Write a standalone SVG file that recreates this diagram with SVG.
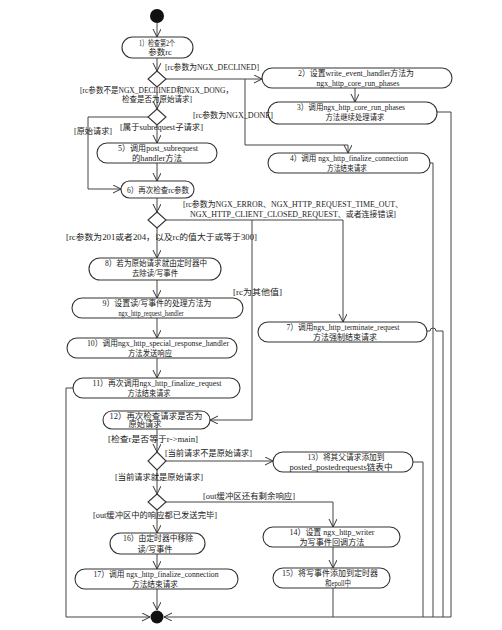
<svg xmlns="http://www.w3.org/2000/svg" width="502" height="630" viewBox="0 0 502 630">
<style>
.n{fill:#fff;stroke:#333;stroke-width:1.1}
.c{fill:none;stroke:#444;stroke-width:1}
.d{fill:#fff;stroke:#333;stroke-width:1.1}
text{font-family:"Liberation Serif","Noto Sans CJK SC",serif;font-size:8.5px;fill:#222;text-anchor:middle}
.l{text-anchor:start}
</style>
<defs>
<marker id="a" markerWidth="10" markerHeight="10" refX="8" refY="4" orient="auto" markerUnits="userSpaceOnUse">
<path d="M0,0 L8,4 L0,8" fill="none" stroke="#333" stroke-width="1"/>
</marker>
</defs>
<rect width="502" height="630" fill="#fff"/>
<g id="connectors">
<path class="c" d="M157,23 V37" marker-end="url(#a)"/>
<path class="c" d="M157,58 V71" marker-end="url(#a)"/>
<path class="c" d="M166,79 H262" marker-end="url(#a)"/>
<path class="c" d="M245,79 V145 H348 V153" marker-end="url(#a)"/>
<path class="c" d="M355,88 V102" marker-end="url(#a)"/>
<path class="c" d="M157,87 V109" marker-end="url(#a)"/>
<path class="c" d="M148,117 H88 V189 H121" marker-end="url(#a)"/>
<path class="c" d="M157,125 V143" marker-end="url(#a)"/>
<path class="c" d="M157,163 V181" marker-end="url(#a)"/>
<path class="c" d="M157,198 V212" marker-end="url(#a)"/>
<path class="c" d="M166,220 H343 V322" marker-end="url(#a)"/>
<path class="c" d="M252,220 V420 H210" marker-end="url(#a)"/>
<path class="c" d="M157,228 V258" marker-end="url(#a)"/>
<path class="c" d="M157,280 V298" marker-end="url(#a)"/>
<path class="c" d="M157,318 V338" marker-end="url(#a)"/>
<path class="c" d="M157,358 V378" marker-end="url(#a)"/>
<path class="c" d="M73,388 H66 V617 H150" marker-end="url(#a)"/>
<path class="c" d="M157,429 V452" marker-end="url(#a)"/>
<path class="c" d="M166,461 H273" marker-end="url(#a)"/>
<path class="c" d="M157,470 V494" marker-end="url(#a)"/>
<path class="c" d="M166,502 H333 V527" marker-end="url(#a)"/>
<path class="c" d="M157,510 V533" marker-end="url(#a)"/>
<path class="c" d="M157,554 V569" marker-end="url(#a)"/>
<path class="c" d="M157,589 V610" marker-end="url(#a)"/>
<path class="c" d="M333,547 V568" marker-end="url(#a)"/>
<path class="c" d="M333,588 V617"/>
<path class="c" d="M437,112 H451 V617 H164" marker-end="url(#a)"/>
<path class="c" d="M430,163 H433 V617"/>
<path class="c" d="M427,331 H430 A3,3 0 0 1 436,331 H443 V617"/>
<path class="c" d="M413,462 H423 V617"/>
</g>
<g id="start"><circle cx="157" cy="16" r="7" fill="#111"/></g>
<g id="end"><circle cx="157" cy="617" r="6.5" fill="#111"/></g>
<g id="n1"><rect class="n" x="122" y="37" width="71" height="21" rx="10.5"/><text x="157" y="46" textLength="36" lengthAdjust="spacingAndGlyphs">1）检查第2个</text><text x="160" y="55">参数rc</text></g>
<g id="n2"><rect class="n" x="262" y="68" width="190" height="20" rx="10"/><text x="356" y="76" textLength="116" lengthAdjust="spacingAndGlyphs">2）设置write_event_handler方法为</text><text x="358" y="86" textLength="83" lengthAdjust="spacingAndGlyphs">ngx_http_core_run_phases</text></g>
<g id="n3"><rect class="n" x="268" y="102" width="169" height="22" rx="11"/><text x="351" y="110" textLength="108" lengthAdjust="spacingAndGlyphs">3）调用ngx_http_core_run_phases</text><text x="355" y="120" textLength="59" lengthAdjust="spacingAndGlyphs">方法继续处理请求</text></g>
<g id="n4"><rect class="n" x="268" y="153" width="162" height="20" rx="10"/><text x="349" y="161" textLength="118" lengthAdjust="spacingAndGlyphs">4）调用 ngx_http_finalize_connection</text><text x="347" y="171" textLength="40" lengthAdjust="spacingAndGlyphs">方法结束请求</text></g>
<g id="n5"><rect class="n" x="97" y="143" width="120" height="20" rx="10"/><text x="158" y="151" textLength="80" lengthAdjust="spacingAndGlyphs">5）调用post_subrequest</text><text x="157" y="161" textLength="50" lengthAdjust="spacingAndGlyphs">的handler方法</text></g>
<g id="n6"><rect class="n" x="121" y="181" width="73" height="17" rx="8.5"/><text x="158" y="192.5" textLength="62" lengthAdjust="spacingAndGlyphs">6）再次检查rc参数</text></g>
<g id="n7"><rect class="n" x="258" y="322" width="169" height="20" rx="10"/><text x="343" y="330" textLength="113" lengthAdjust="spacingAndGlyphs">7）调用ngx_http_terminate_request</text><text x="345" y="340" textLength="64" lengthAdjust="spacingAndGlyphs">方法强制结束请求</text></g>
<g id="n8"><rect class="n" x="89" y="258" width="132" height="22" rx="11"/><text x="156" y="266" textLength="102" lengthAdjust="spacingAndGlyphs">8）若为原始请求就由定时器中</text><text x="155" y="276" textLength="46" lengthAdjust="spacingAndGlyphs">去除读/写事件</text></g>
<g id="n9"><rect class="n" x="72" y="298" width="171" height="20" rx="10"/><text x="157" y="306" textLength="109" lengthAdjust="spacingAndGlyphs">9）设置读/写事件的处理方法为</text><text x="151" y="316" textLength="65" lengthAdjust="spacingAndGlyphs">ngx_http_request_handler</text></g>
<g id="n10"><rect class="n" x="67" y="338" width="170" height="20" rx="10"/><text x="158" y="346" textLength="142" lengthAdjust="spacingAndGlyphs">10）调用ngx_http_special_response_handler</text><text x="150" y="356" textLength="44" lengthAdjust="spacingAndGlyphs">方法发送响应</text></g>
<g id="n11"><rect class="n" x="73" y="378" width="167" height="20" rx="10"/><text x="157" y="386" textLength="129" lengthAdjust="spacingAndGlyphs">11）再次调用ngx_http_finalize_request</text><text x="149" y="396" textLength="43" lengthAdjust="spacingAndGlyphs">方法结束请求</text></g>
<g id="n12"><rect class="n" x="103" y="411" width="107" height="18" rx="9"/><text x="156" y="418.5" textLength="93" lengthAdjust="spacingAndGlyphs">12）再次检查请求是否为</text><text x="145" y="427" textLength="33" lengthAdjust="spacingAndGlyphs">原始请求</text></g>
<g id="n13"><rect class="n" x="273" y="452" width="140" height="20" rx="10"/><text x="346" y="460" textLength="77" lengthAdjust="spacingAndGlyphs">13）将其父请求添加到</text><text x="341" y="470" textLength="103" lengthAdjust="spacingAndGlyphs">posted_postedrequests链表中</text></g>
<g id="n14"><rect class="n" x="263" y="527" width="137" height="20" rx="10"/><text x="332" y="535" textLength="85" lengthAdjust="spacingAndGlyphs">14）设置 ngx_http_writer</text><text x="332" y="545" textLength="65" lengthAdjust="spacingAndGlyphs">为写事件回调方法</text></g>
<g id="n15"><rect class="n" x="273" y="568" width="117" height="20" rx="10"/><text x="330" y="576" textLength="96" lengthAdjust="spacingAndGlyphs">15）将写事件添加到定时器</text><text x="338" y="586" textLength="26" lengthAdjust="spacingAndGlyphs">和epoll中</text></g>
<g id="n16"><rect class="n" x="110" y="533" width="95" height="21" rx="10.5"/><text x="158" y="541" textLength="70" lengthAdjust="spacingAndGlyphs">16）由定时器中移除</text><text x="155" y="551.5" textLength="35" lengthAdjust="spacingAndGlyphs">读/写事件</text></g>
<g id="n17"><rect class="n" x="75" y="569" width="163" height="20" rx="10"/><text x="156" y="577" textLength="125" lengthAdjust="spacingAndGlyphs">17）调用 ngx_http_finalize_connection</text><text x="155" y="587" textLength="46" lengthAdjust="spacingAndGlyphs">方法结束请求</text></g>
<g id="d1"><path class="d" d="M157,71 L166,79 L157,87 L148,79 Z"/></g>
<g id="d2"><path class="d" d="M157,109 L166,117 L157,125 L148,117 Z"/></g>
<g id="d3"><path class="d" d="M157,212 L166,220 L157,228 L148,220 Z"/></g>
<g id="d4"><path class="d" d="M157,452 L166,461 L157,470 L148,461 Z"/></g>
<g id="d5"><path class="d" d="M157,494 L166,502 L157,510 L148,502 Z"/></g>
<g id="labels">
<text class="l" x="165" y="70" textLength="94" lengthAdjust="spacingAndGlyphs">[rc参数为NGX_DECLINED]</text>
<text class="l" x="80" y="93" textLength="153" lengthAdjust="spacingAndGlyphs">[rc参数不是NGX_DECLINED和NGX_DONG，</text>
<text class="l" x="122" y="102" textLength="70" lengthAdjust="spacingAndGlyphs">检查是否为原始请求]</text>
<text class="l" x="193" y="118" textLength="80" lengthAdjust="spacingAndGlyphs">[rc参数为NGX_DONE]</text>
<text class="l" x="120" y="130" textLength="83" lengthAdjust="spacingAndGlyphs">[属于subrequest子请求]</text>
<text class="l" x="74" y="134" textLength="38" lengthAdjust="spacingAndGlyphs">[原始请求]</text>
<text class="l" x="183" y="207" textLength="220" lengthAdjust="spacingAndGlyphs">[rc参数为NGX_ERROR、NGX_HTTP_REQUEST_TIME_OUT、</text>
<text class="l" x="190" y="217" textLength="206" lengthAdjust="spacingAndGlyphs">NGX_HTTP_CLIENT_CLOSED_REQUEST、或者连接错误]</text>
<text class="l" x="66" y="240" textLength="191" lengthAdjust="spacingAndGlyphs">[rc参数为201或者204，以及rc的值大于或等于300]</text>
<text class="l" x="233" y="295" textLength="49" lengthAdjust="spacingAndGlyphs">[rc为其他值]</text>
<text class="l" x="108" y="442" textLength="90" lengthAdjust="spacingAndGlyphs">[检查r是否等于r-&gt;main]</text>
<text class="l" x="165" y="456" textLength="87" lengthAdjust="spacingAndGlyphs">[当前请求不是原始请求]</text>
<text class="l" x="115" y="480" textLength="88" lengthAdjust="spacingAndGlyphs">[当前请求就是原始请求]</text>
<text class="l" x="203" y="499" textLength="92" lengthAdjust="spacingAndGlyphs">[out缓冲区还有剩余响应]</text>
<text class="l" x="93" y="518" textLength="124" lengthAdjust="spacingAndGlyphs">[out缓冲区中的响应都已发送完毕]</text>
</g>
</svg>
